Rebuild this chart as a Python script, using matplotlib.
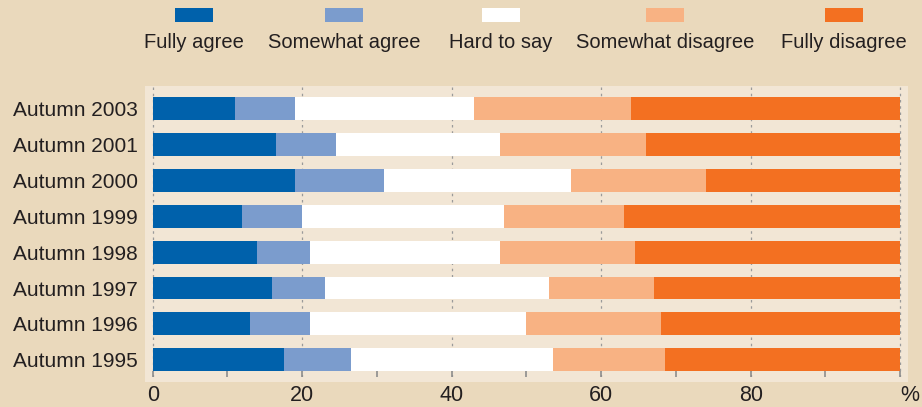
import matplotlib
matplotlib.use("Agg")
import matplotlib.pyplot as plt
from matplotlib.patches import Rectangle
import numpy as np

plt.rcParams['font.family'] = ['Liberation Sans', 'DejaVu Sans']

years = ["Autumn 2003", "Autumn 2001", "Autumn 2000", "Autumn 1999",
         "Autumn 1998", "Autumn 1997", "Autumn 1996", "Autumn 1995"]
series_names = ["Fully agree", "Somewhat agree", "Hard to say",
                "Somewhat disagree", "Fully disagree"]
fully_agree = [11, 16.5, 19, 12, 14, 16, 13, 17.5]
somewhat_agree = [8, 8, 12, 8, 7, 7, 8, 9]
hard_to_say = [24, 22, 25, 27, 25.5, 30, 29, 27]
somewhat_disagree = [21, 19.5, 18, 16, 18, 14, 18, 15]
fully_disagree = [36, 34, 26, 37, 35.5, 33, 32, 31.5]
colors = ["#0061AB", "#7B9CCD", "#FFFFFF", "#F8B283", "#F37021"]
xtick_vals = [0, 20, 40, 60, 80, 100]
xtick_labels = ["0", "20", "40", "60", "80", "%"]

W, H = 922, 407
fig = plt.figure(figsize=(W / 100, H / 100), dpi=100)
fig.patch.set_facecolor("#EAD9BC")

def fx(px):
    return px / W

def fy(py):
    return 1 - py / H

# panel background
fig.patches.append(Rectangle((fx(145), fy(382)), fx(908) - fx(145), fy(86) - fy(382),
                             transform=fig.transFigure, facecolor="#F2E6D5",
                             edgecolor="none", zorder=0))

ax = fig.add_axes([fx(145), fy(377), fx(908) - fx(145), fy(86) - fy(377)])
ax.set_facecolor("none")
ax.set_zorder(1)

x0px, x100px = 152.7, 900.2
ppu = (x100px - x0px) / 100
ax.set_xlim(-(x0px - 145) / ppu, 100 + (908 - x100px) / ppu)
c0, pitch = 108.7, 35.86
ax.set_ylim((377 - c0) / pitch, (86 - c0) / pitch)

data = [fully_agree, somewhat_agree, hard_to_say, somewhat_disagree, fully_disagree]
ypos = np.arange(len(years))
left = np.zeros(len(years))
for vals, col, name in zip(data, colors, series_names):
    vals = np.array(vals, dtype=float)
    ax.barh(ypos, vals, left=left, height=0.64, color=col, edgecolor="none",
            zorder=3, label=name)
    left += vals

for v in [0, 20, 40, 60, 80, 100]:
    ax.axvline(v, color="#9A9A9A", lw=0.9, ls=(0, (2, 3)), zorder=1)

for s in ax.spines.values():
    s.set_visible(False)

ax.set_yticks(ypos)
ax.set_yticklabels(years, fontsize=15, color="#231F20")
ax.tick_params(axis="y", length=0, pad=5)

ax.set_xticks(xtick_vals)
ax.set_xticklabels(xtick_labels, fontsize=15.5, color="#231F20")
ax.set_xticks(list(range(10, 100, 20)), minor=True)
ax.tick_params(axis="x", which="both", direction="in", length=4, width=1.2,
               color="#8C8C8C", pad=6)
for lbl in ax.get_xticklabels():
    if lbl.get_text() == "%":
        lbl.set_ha("left")

# legend
leg_centers = [194, 344, 501, 665, 844]
for cx, col, name in zip(leg_centers, colors, series_names):
    fig.patches.append(Rectangle((fx(cx - 19), fy(21.5)), fx(38), fy(8) - fy(21.5),
                                 transform=fig.transFigure, facecolor=col,
                                 edgecolor="none"))
    fig.text(fx(cx), fy(42), name, ha="center", va="center", fontsize=14.5,
             color="#231F20")

fig.savefig("out.png", dpi=100, facecolor=fig.get_facecolor())
